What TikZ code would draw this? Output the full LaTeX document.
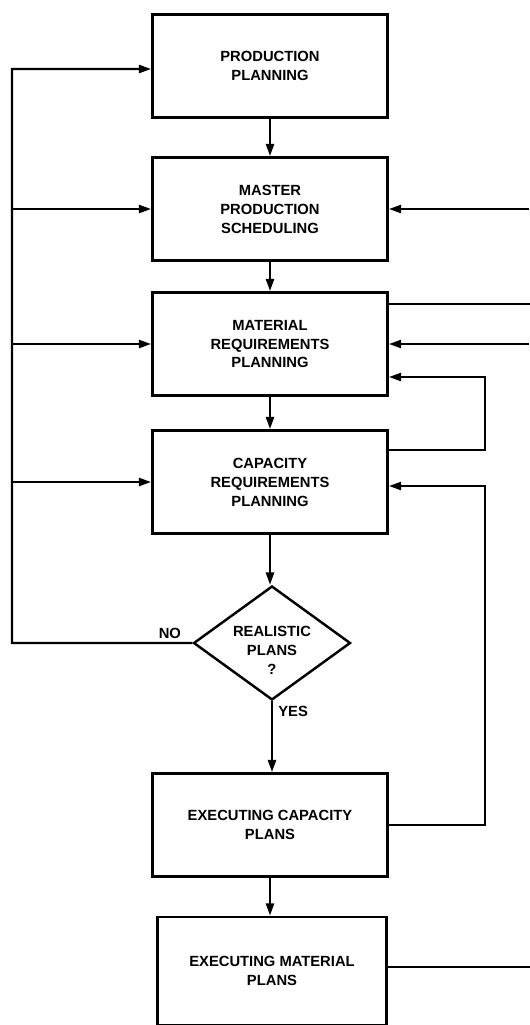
\documentclass[tikz,border=0pt]{standalone}
\usepackage{fontspec}
\setmainfont{Liberation Sans}
\usetikzlibrary{arrows.meta,positioning,shapes.geometric}
\newcommand{\boxfont}{\fontsize{8.4}{10.8}\selectfont\bfseries}
\tikzset{box/.style={draw,line width=1.6pt,minimum width=4.7cm,minimum height=2.06cm,inner sep=0pt,align=center,font=\boxfont},
  dec/.style={diamond,aspect=1.38,draw,line width=1.4pt,minimum width=3.14cm,minimum height=2.28cm,inner sep=0pt,font=\boxfont},
  wire/.style={line width=1.3pt},
  flow/.style={wire,-{Triangle[length=7pt,width=4.6pt]}},
  lbl/.style={font=\boxfont,inner sep=0pt}}

\begin{document}
\begin{tikzpicture}[x=.02cm,y=-.02cm]
\useasboundingbox (0,0) rectangle (529,1025);
\node[box] (pp) at (270,66) {PRODUCTION\\PLANNING};
\node[box] (mps) at (270,209) {MASTER\\PRODUCTION\\SCHEDULING};
\node[box] (mrp) at (270,344) {MATERIAL\\REQUIREMENTS\\PLANNING};
\node[box] (crp) at (270,482) {CAPACITY\\REQUIREMENTS\\PLANNING};
\node[dec] (rp) at (272,643) {\raisebox{-7pt}[0pt][0pt]{\begin{tabular}{@{}c@{}}REALISTIC\\PLANS\\?\end{tabular}}};
\node[box] (xcap) at (270,825) {EXECUTING CAPACITY\\PLANS};
\node[box,minimum width=4.58cm,minimum height=2.16cm] (xmat) at (272,971) {EXECUTING MATERIAL\\PLANS};
\coordinate (rail) at (12,69);
\coordinate (redge) at (529,0);
\draw[flow] (pp) -- (mps);
\draw[flow] (mps) -- (mrp);
\draw[flow] (mrp) -- (crp);
\draw[flow] (crp.south) -- (crp.south |- rp.north);
\draw[flow] (rp.south) -- (rp.south |- xcap.north);
\draw[flow] (xcap.south) -- (xcap.south |- xmat.north);
\draw[flow] (rp.west) -| (rail) -- ([yshift=-.06cm]pp.west);
\foreach \b in {mps,mrp,crp}
 \draw[flow] (rail |- \b.west) -- (\b.west);
\draw[flow] (redge |- mps.east) -- (mps.east);
\draw[wire] ([yshift=.8cm]mrp.east) -- ++(143,0);
\draw[flow] (redge |- mrp.east) -- (mrp.east);
\draw[flow] ([yshift=.64cm]crp.east) -- ++(96,0) |- ([yshift=-.66cm]mrp.east);
\draw[flow] (xcap.east) -- ++(96,0) |- ([yshift=-.08cm]crp.east);
\draw[wire] ([yshift=.08cm]xmat.east) -- ++(143,0);
\node[lbl,anchor=south east] (no) at ([xshift=-.22cm,yshift=.08cm]rp.west) {NO};
\node[lbl,anchor=north west] (yes) at ([xshift=.12cm,yshift=-.1cm]rp.south) {YES};
\end{tikzpicture}
\end{document}
